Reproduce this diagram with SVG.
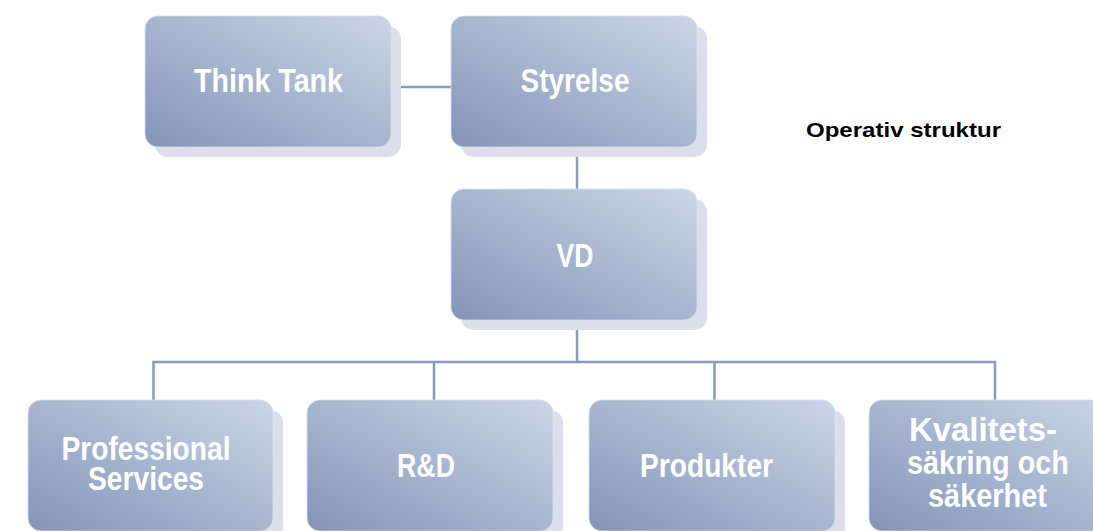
<svg xmlns="http://www.w3.org/2000/svg" width="1093" height="531" viewBox="0 0 1093 531">
<defs>
<linearGradient id="g" x1="0" y1="1" x2="1" y2="0">
<stop offset="0" stop-color="#8494b7"/>
<stop offset="0.5" stop-color="#a7b5cf"/>
<stop offset="1" stop-color="#cbd6e7"/>
</linearGradient>
<style>
.sh{fill:#dcdfeb}
.bx{fill:url(#g);stroke:#d6deec;stroke-width:0.8}
.t{font-family:"Liberation Sans",Arial,sans-serif;font-weight:bold;font-size:34px;fill:#ffffff;text-anchor:middle}
.c{fill:none;stroke:#8a9abd;stroke-width:2.5}
.h{font-family:"Liberation Sans",Arial,sans-serif;font-weight:bold;font-size:21px;fill:#000000}
</style>
</defs>
<rect width="1093" height="531" fill="#ffffff"/>
<g id="connectors">
<path class="c" d="M391 87H451"/>
<path class="c" d="M577 147V189"/>
<path class="c" d="M577 320V362M153.5 400V362H995V400M434 362V400M714.5 362V400"/>
</g>
<g id="think-tank">
<rect class="sh" x="155" y="26" width="246" height="131" rx="13"/>
<rect class="bx" x="145" y="16" width="246" height="131" rx="13"/>
<text class="t" x="268.5" y="92" textLength="149" lengthAdjust="spacingAndGlyphs">Think Tank</text>
</g>
<g id="styrelse">
<rect class="sh" x="461" y="26" width="246" height="131" rx="13"/>
<rect class="bx" x="451" y="16" width="246" height="131" rx="13"/>
<text class="t" x="575" y="92" textLength="109" lengthAdjust="spacingAndGlyphs">Styrelse</text>
</g>
<g id="vd">
<rect class="sh" x="461" y="199" width="246" height="131" rx="13"/>
<rect class="bx" x="451" y="189" width="246" height="131" rx="13"/>
<text class="t" x="575" y="267" textLength="37" lengthAdjust="spacingAndGlyphs">VD</text>
</g>
<g id="professional-services">
<rect class="sh" x="38" y="410" width="245" height="131" rx="13"/>
<rect class="bx" x="28" y="400" width="245" height="131" rx="13"/>
<text class="t" x="146" y="460" textLength="169" lengthAdjust="spacingAndGlyphs">Professional</text>
<text class="t" x="146" y="490" textLength="116" lengthAdjust="spacingAndGlyphs">Services</text>
</g>
<g id="rd">
<rect class="sh" x="317" y="410" width="246" height="131" rx="13"/>
<rect class="bx" x="307" y="400" width="246" height="131" rx="13"/>
<text class="t" x="426" y="477" textLength="58" lengthAdjust="spacingAndGlyphs">R&amp;D</text>
</g>
<g id="produkter">
<rect class="sh" x="599" y="410" width="246" height="131" rx="13"/>
<rect class="bx" x="589" y="400" width="246" height="131" rx="13"/>
<text class="t" x="706.5" y="477" textLength="133" lengthAdjust="spacingAndGlyphs">Produkter</text>
</g>
<g id="kvalitet">
<rect class="sh" x="879" y="410" width="246" height="131" rx="13"/>
<rect class="bx" x="869" y="400" width="246" height="131" rx="13"/>
<text class="t" x="983" y="441" textLength="148" lengthAdjust="spacingAndGlyphs">Kvalitets-</text>
<text class="t" x="988" y="474" textLength="162" lengthAdjust="spacingAndGlyphs">säkring och</text>
<text class="t" x="987.5" y="507" textLength="119" lengthAdjust="spacingAndGlyphs">säkerhet</text>
</g>
<text class="h" x="806" y="137" textLength="195" lengthAdjust="spacingAndGlyphs">Operativ struktur</text>
</svg>
